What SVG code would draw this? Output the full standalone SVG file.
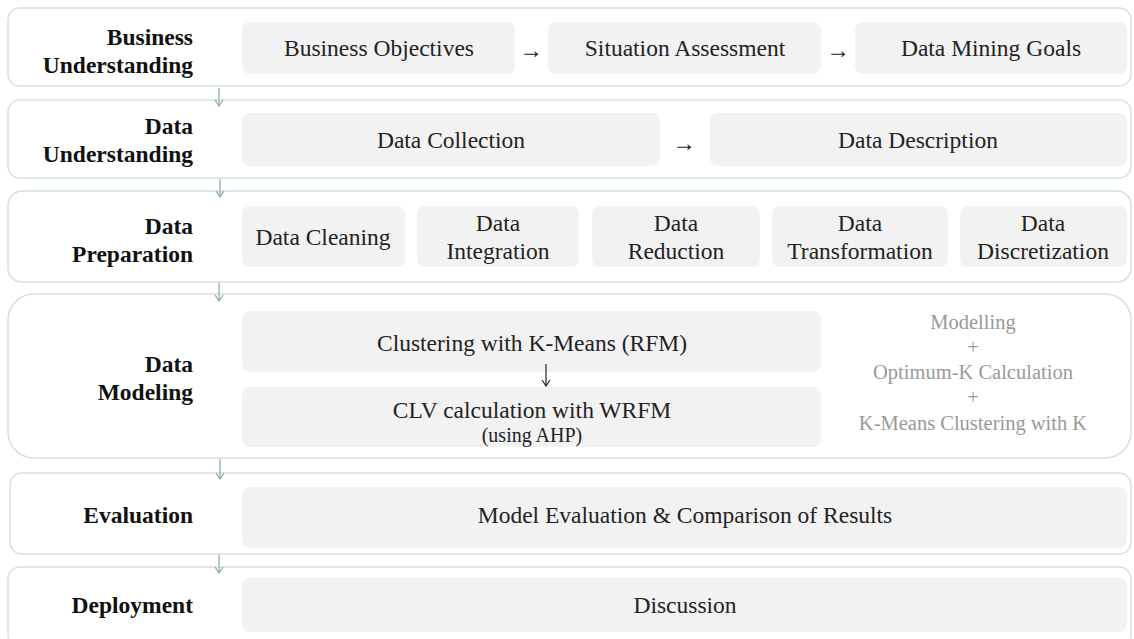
<svg xmlns="http://www.w3.org/2000/svg" width="1134" height="639" viewBox="0 0 1134 639">
<defs>
<style>
.stage{fill:#fff;stroke:#d3e2df;stroke-width:1.5}
.box{fill:#f2f2f2}
.conn{stroke:#86aaa5;stroke-width:1.2;fill:none}
</style>
<marker id="ah" viewBox="0 0 10 10" refX="9" refY="5" markerWidth="10" markerHeight="10" markerUnits="userSpaceOnUse" orient="auto">
<path d="M3,1 L9,5 L3,9" fill="none" stroke="#86aaa5" stroke-width="1.2"/>
</marker>
<marker id="ahd" viewBox="0 0 10 10" refX="9" refY="5" markerWidth="10" markerHeight="10" markerUnits="userSpaceOnUse" orient="auto">
<path d="M3,1 L9,5 L3,9" fill="none" stroke="#222" stroke-width="1.2"/>
</marker>
</defs>
<rect width="1134" height="639" fill="#fff"/>

<g font-family="'Liberation Serif', 'Times New Roman', serif">
<g id="business-understanding">
<rect class="stage" x="8" y="8" width="1123" height="78" rx="12"/>
<g font-weight="bold" font-size="23.5" fill="#111" text-anchor="end">
<text x="193" y="45">Business</text>
<text x="193" y="73">Understanding</text>
</g>
<g font-size="23.5" fill="#222" text-anchor="middle">
<g id="business-objectives"><rect class="box" x="242" y="22" width="273" height="52" rx="8"/><text x="379" y="56">Business Objectives</text></g>
<g id="situation-assessment"><rect class="box" x="548" y="22" width="273" height="52" rx="8"/><text x="685" y="56">Situation Assessment</text></g>
<g id="data-mining-goals"><rect class="box" x="855" y="22" width="272" height="52" rx="8"/><text x="991" y="56">Data Mining Goals</text></g>
</g>
</g>

<g id="data-understanding">
<rect class="stage" x="8" y="100" width="1123" height="78" rx="12"/>
<g font-weight="bold" font-size="23.5" fill="#111" text-anchor="end">
<text x="193" y="134">Data</text>
<text x="193" y="162">Understanding</text>
</g>
<g font-size="23.5" fill="#222" text-anchor="middle">
<g id="data-collection"><rect class="box" x="242" y="113" width="418" height="53" rx="8"/><text x="451" y="148">Data Collection</text></g>
<g id="data-description"><rect class="box" x="710" y="113" width="417" height="53" rx="8"/><text x="918" y="148">Data Description</text></g>
</g>
</g>

<g id="data-preparation">
<rect class="stage" x="8" y="191" width="1123" height="91" rx="14"/>
<g font-weight="bold" font-size="23.5" fill="#111" text-anchor="end">
<text x="193" y="234">Data</text>
<text x="193" y="262">Preparation</text>
</g>
<g font-size="23.5" fill="#222" text-anchor="middle">
<g id="data-cleaning"><rect class="box" x="242" y="206" width="163" height="61" rx="8"/><text x="323" y="245">Data Cleaning</text></g>
<g id="data-integration"><rect class="box" x="417" y="206" width="162" height="61" rx="8"/><text x="498" y="231">Data</text><text x="498" y="259">Integration</text></g>
<g id="data-reduction"><rect class="box" x="592" y="206" width="168" height="61" rx="8"/><text x="676" y="231">Data</text><text x="676" y="259">Reduction</text></g>
<g id="data-transformation"><rect class="box" x="772" y="206" width="176" height="61" rx="8"/><text x="860" y="231">Data</text><text x="860" y="259">Transformation</text></g>
<g id="data-discretization"><rect class="box" x="960" y="206" width="167" height="61" rx="8"/><text x="1043" y="231">Data</text><text x="1043" y="259">Discretization</text></g>
</g>
</g>

<g id="data-modeling">
<rect class="stage" x="8" y="294" width="1123" height="164" rx="26"/>
<g font-weight="bold" font-size="23.5" fill="#111" text-anchor="end">
<text x="193" y="372">Data</text>
<text x="193" y="400">Modeling</text>
</g>
<g font-size="23.5" fill="#222" text-anchor="middle">
<g id="clustering"><rect class="box" x="242" y="311" width="579" height="61" rx="8"/><text x="532" y="351">Clustering with K-Means (RFM)</text></g>
<g id="clv"><rect class="box" x="242" y="387" width="579" height="60" rx="8"/><text x="532" y="418">CLV calculation with WRFM</text><text x="532" y="442" font-size="20">(using AHP)</text></g>
</g>
<g id="modelling-note" font-size="20.5" fill="#999" text-anchor="middle">
<text x="973" y="329">Modelling</text>
<text x="973" y="354">+</text>
<text x="973" y="379">Optimum-K Calculation</text>
<text x="973" y="404">+</text>
<text x="973" y="430">K-Means Clustering with K</text>
</g>
</g>

<g id="evaluation">
<rect class="stage" x="10" y="473" width="1121" height="81" rx="12"/>
<text x="193" y="523" font-weight="bold" font-size="23.5" fill="#111" text-anchor="end">Evaluation</text>
<g id="model-evaluation"><rect class="box" x="242" y="487" width="885" height="61" rx="8"/><text x="685" y="523" font-size="23.5" fill="#222" text-anchor="middle">Model Evaluation &amp; Comparison of Results</text></g>
</g>

<g id="deployment">
<rect class="stage" x="8" y="567" width="1123" height="80" rx="12"/>
<text x="193" y="613" font-weight="bold" font-size="23.5" fill="#111" text-anchor="end">Deployment</text>
<g id="discussion"><rect class="box" x="242" y="578" width="885" height="54" rx="8"/><text x="685" y="613" font-size="23.5" fill="#222" text-anchor="middle">Discussion</text></g>
</g>

<g id="connectors">
<line class="conn" x1="219" y1="88" x2="219" y2="106" marker-end="url(#ah)"/>
<line class="conn" x1="220" y1="179" x2="220" y2="197" marker-end="url(#ah)"/>
<line class="conn" x1="219" y1="283" x2="219" y2="301" marker-end="url(#ah)"/>
<line class="conn" x1="220" y1="459" x2="220" y2="479" marker-end="url(#ah)"/>
<line class="conn" x1="219" y1="555" x2="219" y2="573" marker-end="url(#ah)"/>
<line x1="546" y1="364" x2="546" y2="386" stroke="#222" stroke-width="1.2" marker-end="url(#ahd)"/>
<g font-size="23.5" fill="#222" text-anchor="middle">
<text x="531" y="58">→</text>
<text x="838" y="58">→</text>
<text x="684" y="151">→</text>
</g>
</g>
</g>
</svg>
